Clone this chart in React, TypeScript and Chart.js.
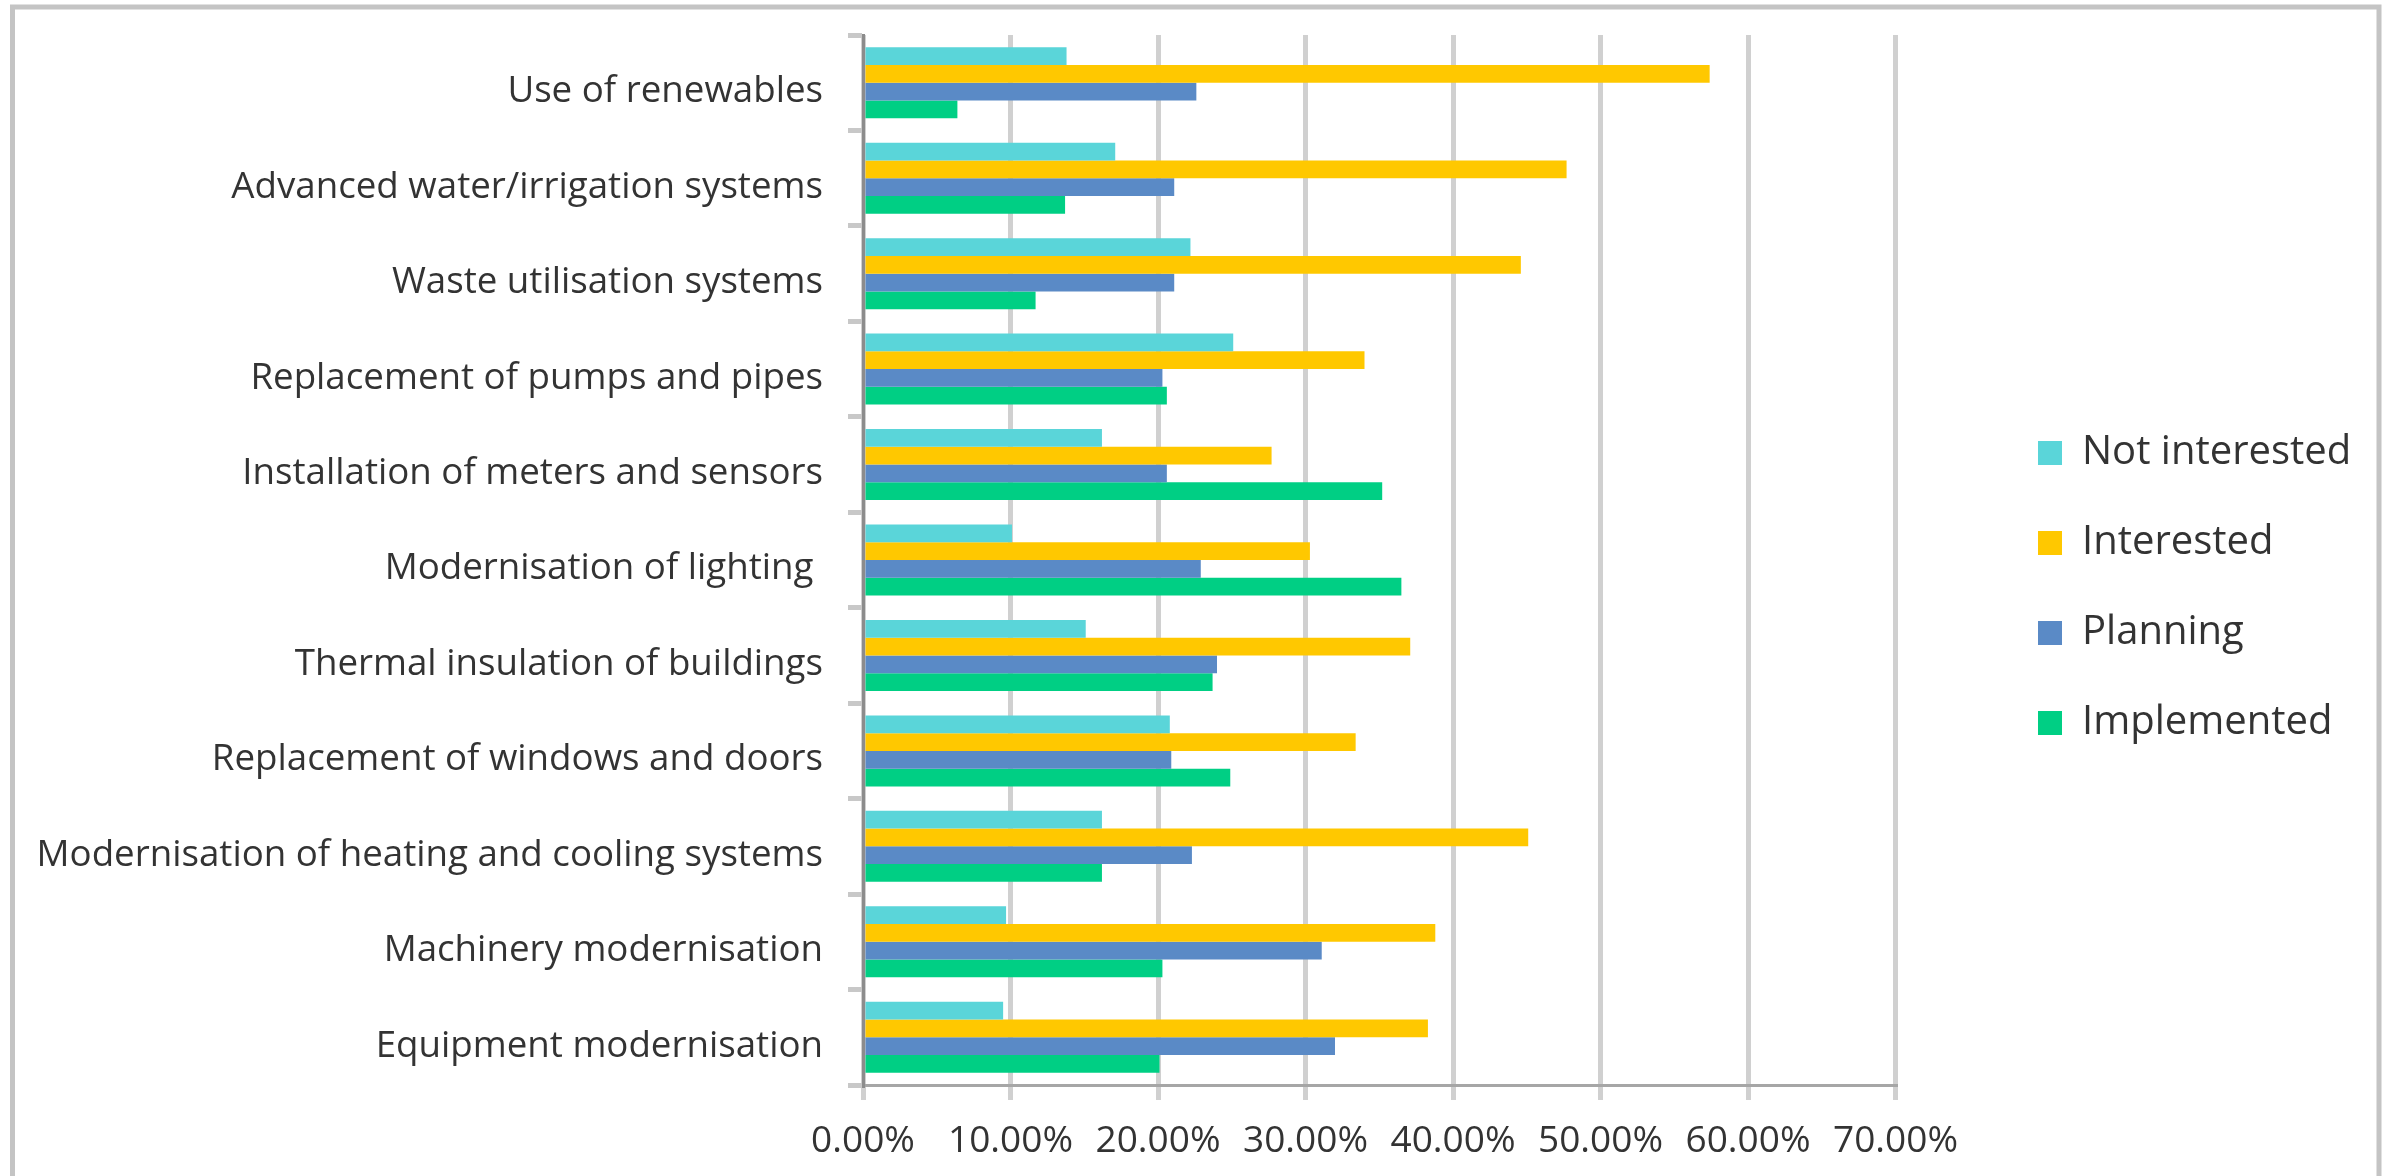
import React, { useEffect, useRef } from "react";
import { Chart, registerables } from "chart.js";

Chart.register(...registerables);

// Measures, listed top to bottom as they appear on the axis
const categories = [
  "Use of renewables",
  "Advanced water/irrigation systems",
  "Waste utilisation systems",
  "Replacement of pumps and pipes",
  "Installation of meters and sensors",
  "Modernisation of lighting ",
  "Thermal insulation of buildings",
  "Replacement of windows and doors",
  "Modernisation of heating and cooling systems",
  "Machinery modernisation",
  "Equipment modernisation",
];

// Share of respondents (%) per status
const notInterested = [13.8, 17.1, 22.2, 25.1, 16.2, 10.1, 15.1, 20.8, 16.2, 9.7, 9.5];
const interested = [57.4, 47.7, 44.6, 34.0, 27.7, 30.3, 37.1, 33.4, 45.1, 38.8, 38.3];
const planning = [22.6, 21.1, 21.1, 20.3, 20.6, 22.9, 24.0, 20.9, 22.3, 31.1, 32.0];
const implemented = [6.4, 13.7, 11.7, 20.6, 35.2, 36.5, 23.7, 24.9, 16.2, 20.3, 20.1];

const seriesNames = ["Not interested", "Interested", "Planning", "Implemented"];
const seriesColors = ["#5AD5D9", "#FFC800", "#5A8AC6", "#00CF84"];

// Value axis range and step (%)
const xMin = 0;
const xMax = 70;
const xStep = 10;

const W = 2389;
const H = 1176;
const TEXT = "#333333";
const FONT = "'Open Sans', 'Noto Sans', sans-serif";
const LEGEND_LEFT = 1988;

// Grey frame around the whole figure (open at the bottom)
const framePlugin = {
  id: "frame",
  beforeDraw(chart: any) {
    const ctx = chart.ctx;
    ctx.save();
    ctx.strokeStyle = "#C4C4C4";
    ctx.lineWidth = 5;
    ctx.beginPath();
    ctx.moveTo(12.5, chart.height + 5);
    ctx.lineTo(12.5, 7);
    ctx.lineTo(2379, 7);
    ctx.lineTo(2379, chart.height + 5);
    ctx.stroke();
    ctx.restore();
  },
};

export default function App() {
  const canvasRef = useRef<HTMLCanvasElement | null>(null);

  useEffect(() => {
    const canvas = canvasRef.current;
    if (!canvas) return;
    const series = [notInterested, interested, planning, implemented];
    const chart = new Chart(canvas, {
      type: "bar",
      data: {
        labels: categories,
        datasets: series.map((values, i) => ({
          label: seriesNames[i],
          data: values,
          backgroundColor: seriesColors[i],
          borderWidth: 0,
          categoryPercentage: 0.744,
          barPercentage: 1,
        })),
      },
      options: {
        indexAxis: "y",
        responsive: false,
        animation: false,
        devicePixelRatio: 1,
        layout: { padding: { right: 26 } },
        plugins: {
          legend: {
            position: "right",
            labels: {
              boxWidth: 24,
              boxHeight: 24,
              padding: 50,
              color: TEXT,
              font: { family: FONT, size: 40 },
            },
          },
          tooltip: { enabled: false },
        },
        scales: {
          x: {
            type: "linear",
            position: "bottom",
            min: xMin,
            max: xMax,
            ticks: {
              stepSize: xStep,
              padding: 19,
              color: TEXT,
              font: { family: FONT, size: 37 },
              callback: (v: any) => Number(v).toFixed(2) + "%",
            },
            grid: { color: "#D0D0D0", lineWidth: 5, tickLength: 15, drawTicks: true },
            border: { color: "#A6A6A6", width: 3 },
            afterFit: (s: any) => {
              s.height = 91;
            },
          },
          x2: {
            type: "linear",
            position: "top",
            grid: { display: false, drawTicks: false },
            ticks: { display: false },
            border: { display: false },
            afterFit: (s: any) => {
              s.height = 35;
            },
          },
          y: {
            type: "category",
            position: "left",
            grid: {
              offset: true,
              drawOnChartArea: false,
              tickLength: 15,
              lineWidth: 5,
              color: "#C8C8C8",
            },
            border: { color: "#8C8C8C", width: 3 },
            ticks: {
              padding: 25,
              labelOffset: 9,
              color: TEXT,
              font: { family: FONT, size: 36.7 },
            },
            afterFit: (s: any) => {
              s.width = 863;
              s.paddingTop = 0;
              s.paddingBottom = 0;
            },
          },
          y2: {
            type: "linear",
            position: "right",
            grid: { display: false, drawTicks: false },
            ticks: { display: false },
            border: { display: false },
            afterFit: (s: any) => {
              s.width = LEGEND_LEFT - 1895.5;
              s.paddingTop = 0;
              s.paddingBottom = 0;
            },
          },
        },
      } as any,
      plugins: [framePlugin],
    });

    // Keep the legend column at a fixed left edge whatever the text width
    const placeLegend = () => {
      for (let i = 0; i < 2; i++) {
        const legend: any = (chart as any).legend;
        if (!legend) return;
        const delta = legend.left - LEGEND_LEFT;
        if (Math.abs(delta) < 0.5) return;
        const pad: any = (chart.options as any).layout.padding;
        pad.right = pad.right + delta;
        chart.update();
      }
    };
    placeLegend();

    if ((document as any).fonts && (document as any).fonts.load) {
      (document as any).fonts
        .load("40px 'Open Sans'")
        .then(() => {
          chart.update();
          placeLegend();
        })
        .catch(() => {});
    }

    return () => chart.destroy();
  }, []);

  return (
    <div style={{ position: "fixed", left: 0, top: 0, width: W, height: H, overflow: "hidden", background: "#fff" }}>
      <canvas ref={canvasRef} width={W} height={H} style={{ display: "block", width: W, height: H }} />
    </div>
  );
}
